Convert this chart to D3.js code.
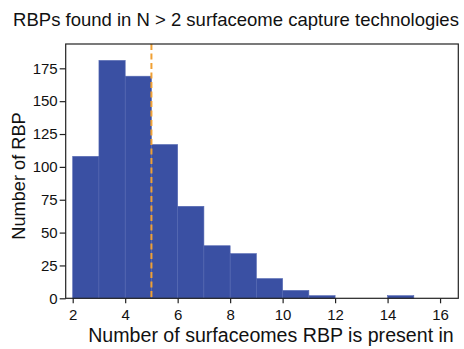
<!DOCTYPE html>
<html><head><meta charset="utf-8">
<script src="https://cdn.jsdelivr.net/npm/d3@7"></script>
<style>body{margin:0;background:#fff}svg{display:block}text{font-family:"Liberation Sans",Arial,sans-serif;fill:#111}</style>
</head><body>
<svg id="c" width="464" height="349"></svg>
<script>
const binStarts = [2,3,4,5,6,7,8,9,10,11,12,13,14,15];
const counts    = [108,181,169,117,70,40,34,15,6,2,0,0,2,0];
const xTicks = [2,4,6,8,10,12,14,16];
const yTicks = [0,25,50,75,100,125,150,175];
const threshold = 5;
const title = "RBPs found in N > 2 surfaceome capture technologies";
const xLabel = "Number of surfaceomes RBP is present in";
const yLabel = "Number of RBP";

const svg = d3.select("#c");
const L=65.7, R=458.3, T=44, B=298.3;
const x = d3.scaleLinear().domain([1.733,16.695]).range([L,R]);
const y = d3.scaleLinear().domain([0,193.5]).range([B,T]);

svg.append("g").selectAll("rect").data(binStarts.map((s,i)=>({s,c:counts[i]}))).join("rect")
  .attr("x",d=>x(d.s)).attr("width",d=>x(d.s+1)-x(d.s))
  .attr("y",d=>y(d.c)).attr("height",d=>B-y(d.c))
  .attr("fill","#3a50a3").attr("stroke","#5468b2").attr("stroke-width",0.6);

svg.append("line").attr("x1",x(threshold)).attr("x2",x(threshold)).attr("y1",T).attr("y2",B)
  .attr("stroke","#f0a034").attr("stroke-width",2).attr("stroke-dasharray","6,3.5");

svg.append("rect").attr("x",L).attr("y",T).attr("width",R-L).attr("height",B-T)
  .attr("fill","none").attr("stroke","#222").attr("stroke-width",1.2);

const xa = svg.append("g").attr("transform",`translate(0,${B})`)
  .call(d3.axisBottom(x).tickValues(xTicks).tickSize(5).tickPadding(6).tickFormat(d3.format("d")));
const ya = svg.append("g").attr("transform",`translate(${L},0)`)
  .call(d3.axisLeft(y).tickValues(yTicks).tickSize(6).tickPadding(2).tickFormat(d3.format("d")));
[xa,ya].forEach(a=>{
  a.select(".domain").remove();
  a.selectAll(".tick line").attr("stroke","#222").attr("stroke-width",1.2);
  a.selectAll(".tick text").attr("font-size","15px").style("font-family","'Liberation Sans',Arial,sans-serif").attr("fill","#111");
});

svg.append("text").attr("x",236).attr("y",26).attr("text-anchor","middle").attr("font-size","18.5px").text(title);
svg.append("text").attr("x",271).attr("y",342).attr("text-anchor","middle").attr("font-size","19.6px").text(xLabel);
svg.append("text").attr("transform",`translate(25,176) rotate(-90)`).attr("text-anchor","middle").attr("font-size","18.2px").text(yLabel);
</script>
</body></html>
